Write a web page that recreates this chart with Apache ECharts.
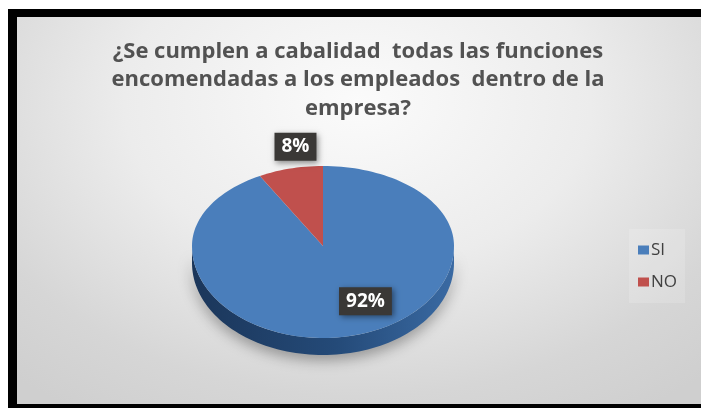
<!DOCTYPE html>
<html>
<head>
<meta charset="utf-8">
<script src="https://cdn.jsdelivr.net/npm/echarts@6/dist/echarts.min.js"></script>
<style>
  html, body { margin: 0; padding: 0; overflow: hidden; background: #ffffff; }
  .bar { position: absolute; background: #000; }
  #under { position: absolute; left: 17px; top: 17px; width: 800px; height: 500px; background: #d3d3d3; }
  #chart {
    position: absolute; left: 17px; top: 17px; width: 700px; height: 387px;
    background: radial-gradient(ellipse 74% 95% at 48.7% 22%, #fbfbfb 0%, #ececec 45%, #d6d6d6 80%, #cfcfcf 100%);
  }
</style>
</head>
<body>
<div id="under"></div>
<div class="bar" style="left:8px;top:9px;width:9px;height:400px"></div>
<div class="bar" style="left:8px;top:9px;width:800px;height:8px"></div>
<div id="chart"></div>
<div class="bar" style="left:8px;top:404px;width:800px;height:8px"></div>
<script>
// Survey answers and their shares (percent)
const categories = ['SI', 'NO'];
const values = [92, 8];
const colors = ['#4a7ebb', '#c0504d'];
const titleText = '¿Se cumplen a cabalidad  todas las funciones\nencomendadas a los empleados  dentro de la\nempresa?';

// Tilted pie geometry in pixels of the drawing area; the far half is
// drawn slightly flatter than the near half for a touch of perspective
const PIE = { cx: 306, cy: 229, rx: 131, ryBack: 80, ryFront: 92, depth: 17 };
// Label anchors, as fractions of the radii measured from the pie centre
const labelAnchor = { SI: [0.324, 0.60], NO: [-0.21, -1.24] };

const total = values.reduce((a, b) => a + b, 0);
const DEG = Math.PI / 180;

function ellipsePts(g, a0, a1, dy) {
  const pts = [];
  const steps = Math.max(2, Math.ceil(Math.abs(a1 - a0) / 2));
  for (let i = 0; i <= steps; i++) {
    const t = (a0 + (a1 - a0) * i / steps) * DEG;
    const c = Math.cos(t);
    const ry = c > 0 ? g.ryB : g.ryF;
    pts.push([g.cx + g.rx * Math.sin(t), g.cy - ry * c + dy]);
  }
  return pts;
}

function makeRender(idx) {
  return function (params, api) {
    const g = { cx: PIE.cx, cy: PIE.cy, rx: PIE.rx, ryB: PIE.ryBack, ryF: PIE.ryFront };
    const d = PIE.depth;
    const v = api.value(0);
    let before = 0;
    for (let i = 0; i < idx; i++) before += values[i];
    const a0 = before / total * 360;
    const a1 = (before + v) / total * 360;
    const children = [];

    // Front rim: only the part of the slice that faces the viewer
    const s0 = Math.max(a0, 90), s1 = Math.min(a1, 270);
    if (s1 > s0) {
      const top = ellipsePts(g, s0, s1, 0);
      const bot = ellipsePts(g, s0, s1, d).reverse();
      const shade = idx === 0
        ? [{ offset: 0, color: '#3a6aa3' }, { offset: 0.45, color: '#244a78' }, { offset: 1, color: '#1b365a' }]
        : [{ offset: 0, color: '#a0403d' }, { offset: 1, color: '#6e2a28' }];
      children.push({
        type: 'polygon',
        shape: { points: top.concat(bot) },
        style: {
          fill: new echarts.graphic.LinearGradient(1, 0, 0, 0, shade),
          shadowBlur: 14, shadowColor: 'rgba(0,0,0,0.35)', shadowOffsetY: 5
        }
      });
    }

    // Top face of the slice
    const face = [[g.cx, g.cy]].concat(ellipsePts(g, a0, a1, 0));
    children.push({
      type: 'polygon',
      shape: { points: face },
      style: { fill: api.visual('color') }
    });

    // Percentage label in a dark box
    const anc = labelAnchor[categories[idx]];
    children.push({
      type: 'text',
      x: g.cx + anc[0] * g.rx,
      y: g.cy + anc[1] * (anc[1] < 0 ? g.ryB : g.ryF),
      z2: 10,
      style: {
        text: Math.round(v / total * 100) + '%',
        fill: '#ffffff',
        font: 'bold 19px "Open Sans", "Noto Sans", sans-serif',
        align: 'center',
        verticalAlign: 'middle',
        backgroundColor: '#3a3836',
        padding: [5, 7, 4, 7],
        shadowBlur: 6, shadowColor: 'rgba(0,0,0,0.45)', shadowOffsetX: 2, shadowOffsetY: 2
      }
    });
    return { type: 'group', children: children };
  };
}

const chart = echarts.init(document.getElementById('chart'), null, { renderer: 'canvas' });
chart.setOption({
  backgroundColor: 'transparent',
  animation: false,
  title: {
    text: titleText,
    left: 341,
    top: 20,
    padding: 0,
    textAlign: 'center',
    textStyle: {
      color: '#525252',
      fontFamily: '"Open Sans", sans-serif',
      fontWeight: 'bold',
      fontSize: 22,
      lineHeight: 28.5
    }
  },
  legend: {
    orient: 'vertical',
    left: 612,
    top: 212,
    padding: [12, 8, 12, 9],
    backgroundColor: 'rgba(255,255,255,0.16)',
    icon: 'rect',
    itemWidth: 11,
    itemHeight: 9,
    itemGap: 14,
    data: categories,
    textStyle: {
      color: '#404040',
      fontSize: 17,
      lineHeight: 18,
      fontFamily: '"Open Sans", "Liberation Sans", sans-serif',
      padding: [0, 0, 0, -3]
    }
  },
  series: categories.map((name, i) => ({
    type: 'custom',
    name: name,
    coordinateSystem: 'none',
    itemStyle: { color: colors[i] },
    renderItem: makeRender(i),
    data: [[values[i]]]
  }))
});
</script>
</body>
</html>
